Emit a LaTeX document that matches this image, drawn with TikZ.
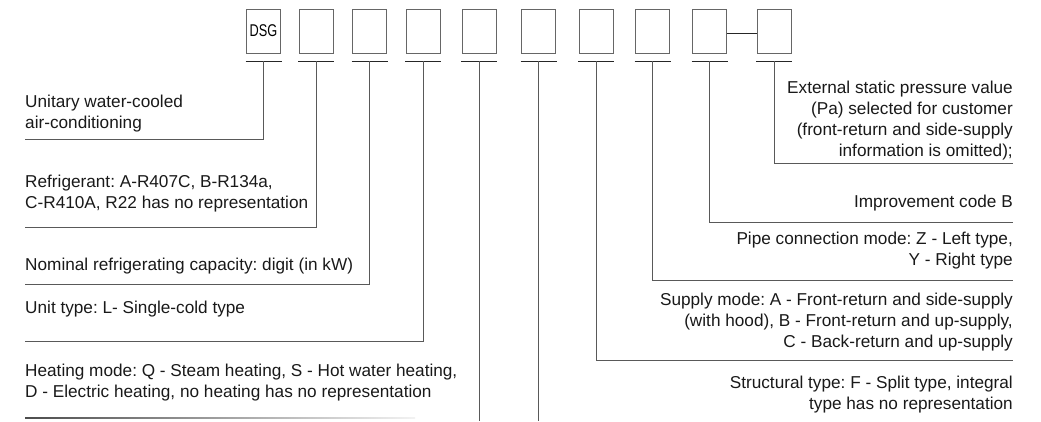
\documentclass[tikz,border=0pt]{standalone}
\usepackage{fontspec}
\setmainfont{Liberation Sans}
\usetikzlibrary{calc}
\frenchspacing

\begin{document}
\begin{tikzpicture}[
    x=1pt, y=-1pt,
    cell/.style={draw=black!60, line width=0.9pt, minimum width=34pt, minimum height=44pt, inner sep=0pt},
    bar/.style={black!85, line width=0.9pt},
    leader/.style={black!65, line width=0.9pt},
    desc/.style={font=\fontsize{17.2}{21}\selectfont, text=black!90, inner sep=0pt},
    leftdesc/.style={desc, align=left, anchor=base west},
    rightdesc/.style={desc, align=right, anchor=base east},
]
    \useasboundingbox (0,0) rectangle (1041,421);

    % Code boxes
    \node[cell] (b1) at (263.5,31) {\scalebox{0.75}[1]{\fontsize{17}{17}\selectfont DSG}};
    \node[cell] (b2) at (316,31) {};
    \node[cell] (b3) at (369.5,31) {};
    \node[cell] (b4) at (423,31) {};
    \node[cell] (b5) at (479,31) {};
    \node[cell] (b6) at (538.5,31) {};
    \node[cell] (b7) at (596,31) {};
    \node[cell] (b8) at (652.5,31) {};
    \node[cell] (b9) at (709.5,31) {};
    \node[cell] (b10) at (774,31) {};
    \draw[bar] ([yshift=-2pt]b9.east) -- ([yshift=-2pt]b10.west);

    % Bars under the boxes
    \coordinate (k1) at ([yshift=-8pt]b1.south);
    \coordinate (k2) at ([yshift=-8pt]b2.south);
    \coordinate (k3) at ([yshift=-8pt]b3.south);
    \coordinate (k4) at ([yshift=-8pt]b4.south);
    \coordinate (k5) at ([yshift=-8pt]b5.south);
    \coordinate (k6) at ([yshift=-8pt]b6.south);
    \coordinate (k7) at ([yshift=-8pt]b7.south);
    \coordinate (k8) at ([yshift=-8pt]b8.south);
    \coordinate (k9) at ([yshift=-8pt]b9.south);
    \coordinate (k10) at ([yshift=-8pt]b10.south);
    \draw[bar] ([xshift=-18pt]k1) -- ([xshift=18pt]k1);
    \draw[bar] ([xshift=-18pt]k2) -- ([xshift=18pt]k2);
    \draw[bar] ([xshift=-18pt]k3) -- ([xshift=18pt]k3);
    \draw[bar] ([xshift=-18pt]k4) -- ([xshift=18pt]k4);
    \draw[bar] ([xshift=-18pt]k5) -- ([xshift=18pt]k5);
    \draw[bar] ([xshift=-18pt]k6) -- ([xshift=18pt]k6);
    \draw[bar] ([xshift=-18pt]k7) -- ([xshift=18pt]k7);
    \draw[bar] ([xshift=-18pt]k8) -- ([xshift=18pt]k8);
    \draw[bar] ([xshift=-18pt]k9) -- ([xshift=18pt]k9);
    \draw[bar] ([xshift=-18pt]k10) -- ([xshift=18pt]k10);

    % Left descriptions (anchored at the baseline of their last line)
    \node[leftdesc] (unitary) at (25,128) {Unitary water-cooled\\air-conditioning};
    \node[leftdesc] (refrig) at (25,208) {Refrigerant: A-R407C, B-R134a,\\C-R410A, R22 has no representation};
    \node[leftdesc] (capacity) at (25,270) {Nominal refrigerating capacity: digit (in kW)};
    \node[leftdesc] (unittype) at (25,313) {Unit type: L- Single-cold type};
    \node[leftdesc] (heating) at (25,397) {Heating mode: Q - Steam heating, S - Hot water heating,\\D - Electric heating, no heating has no representation};

    % Right descriptions
    \node[rightdesc] (pressure) at (1013,156) {External static pressure value\\(Pa) selected for customer\\(front-return and side-supply\\information is omitted);};
    \node[rightdesc] (improve) at (1013,207) {Improvement code B};
    \node[rightdesc] (pipe) at (1013,265) {Pipe connection mode: Z - Left type,\\Y - Right type};
    \node[rightdesc] (supply) at (1013,347) {Supply mode: A - Front-return and side-supply\\(with hood), B - Front-return and up-supply,\\C - Back-return and up-supply};
    \node[rightdesc] (struct) at (1013,409) {Structural type: F - Split type, integral\\type has no representation};

    % Leader line ends
    \coordinate (e1) at (25,139);
    \coordinate (e2) at (25,227);
    \coordinate (e3) at (25,284);
    \coordinate (e4) at (25,341);
    \coordinate (e5) at (479,421);
    \coordinate (e6) at (538.5,421);
    \coordinate (e7) at (1013,360);
    \coordinate (e8) at (1013,280);
    \coordinate (e9) at (1013,222);
    \coordinate (e10) at (1013,163);

    \draw[leader] (k1) |- (e1);
    \draw[leader] (k2) |- (e2);
    \draw[leader] (k3) |- (e3);
    \draw[leader] (k4) |- (e4);
    \draw[leader] (k5) -- (e5);
    \draw[leader] (k6) -- (e6);
    \draw[leader] (k7) |- (e7);
    \draw[leader] (k8) |- (e8);
    \draw[leader] (k9) |- (e9);
    \draw[leader] (k10) |- (e10);

    % Fading rule under the heating mode text
    \shade[left color=black!70, middle color=black!55, right color=black!5] (25,417.5) rectangle (415,418.5);
\end{tikzpicture}
\end{document}
